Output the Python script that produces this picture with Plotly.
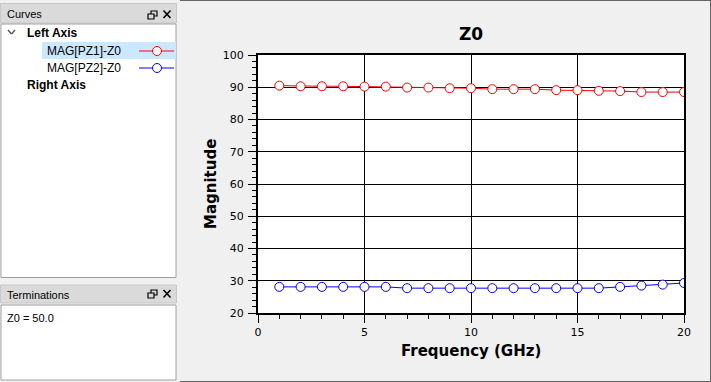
import plotly.graph_objects as go

# ---- data ----
freq_ghz = [1, 2, 3, 4, 5, 6, 7, 8, 9, 10, 11, 12, 13, 14, 15, 16, 17, 18, 19, 20]
mag_pz1 = [90.5, 90.3, 90.3, 90.3, 90.2, 90.2, 89.9, 89.9, 89.7, 89.7,
           89.4, 89.4, 89.4, 89.1, 89.1, 88.9, 88.8, 88.5, 88.5, 88.5]
mag_pz2 = [28.1, 28.1, 28.1, 28.1, 28.1, 28.1, 27.7, 27.7, 27.7, 27.7,
           27.7, 27.7, 27.7, 27.7, 27.7, 27.7, 28.1, 28.5, 28.8, 29.3]
series_names = ["MAG[PZ1]-Z0", "MAG[PZ2]-Z0"]
series_colors = ["#ff0000", "#0000ff"]
x_ticks = [0, 5, 10, 15, 20]
y_ticks = [20, 30, 40, 50, 60, 70, 80, 90, 100]

# ---- geometry helpers (pixel -> paper) ----
WIDTH, HEIGHT = 711, 382
PL, PR, PT, PB = 258, 684, 55, 313
PW, PH = PR - PL, PB - PT


def px(x):
    return (x - PL) / PW


def py(y):
    return (PB - y) / PH


fig = go.Figure()
for vals, name, col in zip([mag_pz1, mag_pz2], series_names, series_colors):
    fig.add_trace(go.Scatter(
        x=freq_ghz, y=vals, name=name, mode="lines+markers",
        line=dict(color=col, width=1),
        marker=dict(symbol="circle", size=9, color="white",
                    line=dict(color=col, width=1)),
        showlegend=False,
    ))

shapes = []
annotations = []


def rect(x0, y0, x1, y1, fill, line=None, lw=1, layer="below"):
    shapes.append(dict(type="rect", xref="paper", yref="paper",
                       x0=px(x0), x1=px(x1), y0=py(y0), y1=py(y1),
                       fillcolor=fill, layer=layer,
                       line=dict(color=line if line else fill, width=lw if line else 0)))


def seg(x0, y0, x1, y1, color, lw=1, layer="above"):
    shapes.append(dict(type="line", xref="paper", yref="paper",
                       x0=px(x0), x1=px(x1), y0=py(y0), y1=py(y1),
                       layer=layer, line=dict(color=color, width=lw)))


def text(x, y, s, size=12, bold=False, color="#000000", xanchor="left", angle=0,
         family="Liberation Sans, Arial, sans-serif"):
    annotations.append(dict(xref="paper", yref="paper", x=px(x), y=py(y),
                            text=f"<b>{s}</b>" if bold else s, showarrow=False,
                            xanchor=xanchor, yanchor="middle", textangle=angle,
                            font=dict(size=size, color=color, family=family)))


# chart panel border (top, right, bottom)
seg(180, 0.5, 710.5, 0.5, "#646464", 1, "below")
seg(710.5, 0, 710.5, 381.5, "#646464", 1, "below")
seg(180, 381.5, 710.5, 381.5, "#646464", 1, "below")

# left dock: Curves
rect(0.5, 3.5, 176.5, 23, "#dadada", "#c8c8c8")
text(5, 14, "Curves", size=11)
rect(1, 24, 176, 277.5, "#ffffff", "#a0a0a0")
# restore icon
rect(151, 11, 157, 16, "#dadada", "#000000", 1.2, "above")
rect(148, 14, 154, 19, "#dadada", "#000000", 1.2, "above")
# close icon
seg(163.5, 10.5, 170.5, 18, "#000000", 1.6)
seg(163.5, 18, 170.5, 10.5, "#000000", 1.6)

# tree
seg(8, 30, 11.5, 34, "#505050", 1.4)
seg(11.5, 34, 15, 30, "#505050", 1.4)
text(25, 33, "Left Axis", size=12, bold=True)
rect(42, 42, 176, 59, "#cce8ff")
text(45, 51, series_names[0], size=12)
text(45, 68, series_names[1], size=12)
text(25, 85, "Right Axis", size=12, bold=True)
for yy, col in [(51, series_colors[0]), (68, series_colors[1])]:
    seg(139, yy, 174, yy, col, 1)
    shapes.append(dict(type="circle", xref="paper", yref="paper",
                       x0=px(152.5), x1=px(161.5), y0=py(46.5), y1=py(55.5),
                       fillcolor="white", layer="above",
                       line=dict(color=col, width=1)))
    shapes[-1].update(y0=py(yy - 4.5), y1=py(yy + 4.5))

# left dock: Terminations
rect(0.5, 285, 176.5, 303, "#dadada", "#c8c8c8")
text(5, 295, "Terminations", size=11)
rect(1, 305, 176, 380, "#ffffff", "#a0a0a0")
rect(151, 290, 157, 295, "#dadada", "#000000", 1.2, "above")
rect(148, 293, 154, 298, "#dadada", "#000000", 1.2, "above")
seg(163.5, 290, 170.5, 297.5, "#000000", 1.6)
seg(163.5, 297.5, 170.5, 290, "#000000", 1.6)
text(5, 318, "Z0 = 50.0", size=11)

# chart titles
text(471, 34, "Z0", size=17, bold=True, xanchor="center", family="DejaVu Sans, sans-serif")
text(471, 351, "Frequency (GHz)", size=15, bold=True, xanchor="center",
     family="DejaVu Sans, sans-serif")
text(211, 184, "Magnitude", size=15, bold=True, xanchor="center", angle=-90,
     family="DejaVu Sans, sans-serif")

axis_common = dict(
    showline=True, linecolor="black", linewidth=2, mirror=True,
    ticks="outside", ticklen=8, tickwidth=1, tickcolor="black",
    showgrid=True, gridcolor="black", gridwidth=1, zeroline=False,
    tickfont=dict(family="DejaVu Sans, sans-serif", size=11, color="#000000"),
)
fig.update_xaxes(range=[0, 20], tickvals=x_ticks,
                 minor=dict(dtick=1, ticks="outside", ticklen=4, tickcolor="black", showgrid=False),
                 **axis_common)
fig.update_yaxes(range=[20, 100], tickvals=y_ticks, ticklabelstandoff=2,
                 minor=dict(dtick=2, ticks="outside", ticklen=4, tickcolor="black", showgrid=False),
                 **axis_common)

fig.update_layout(
    width=WIDTH, height=HEIGHT,
    margin=dict(l=PL, r=WIDTH - PR, t=PT, b=HEIGHT - PB, pad=0),
    paper_bgcolor="#f0f0f0", plot_bgcolor="#ffffff",
    shapes=shapes, annotations=annotations,
)

fig.write_html("out.html")
